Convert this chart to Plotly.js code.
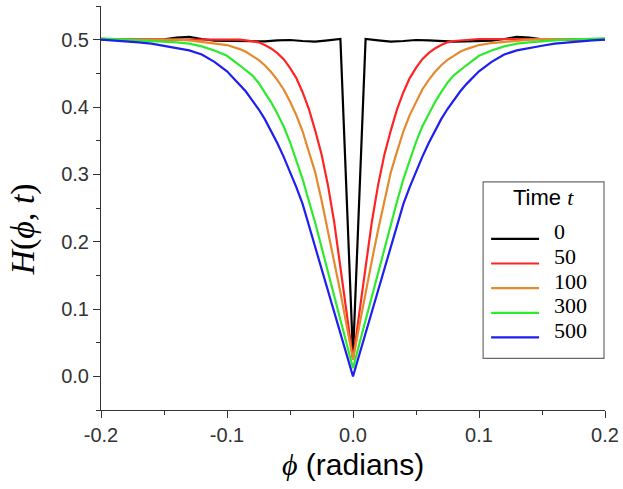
<!DOCTYPE html>
<html>
<head>
<meta charset="utf-8">
<script src="https://cdn.plot.ly/plotly-3.0.1.min.js"></script>
<style>html,body{margin:0;padding:0;background:#fff;}#chart{width:623px;height:489px;}</style>
</head>
<body>
<div id="chart"></div>
<script>
// ---- data ----
var times = ["0", "50", "100", "300", "500"];
var colors = ["#000000", "#ff2424", "#e4892e", "#2eea2e", "#1e1ef0"];

var xTickVals = [-0.2, -0.1, 0.0, 0.1, 0.2];
var xTickText = ["-0.2", "-0.1", "0.0", "0.1", "0.2"];
var yTickVals = [0.0, 0.1, 0.2, 0.3, 0.4, 0.5];
var yTickText = ["0.0", "0.1", "0.2", "0.3", "0.4", "0.5"];

// phi grid for t = 0
var phi0 = [-0.2,-0.18,-0.16,-0.15,-0.14,-0.13,-0.12,-0.11,-0.1,-0.09,-0.08,-0.07,-0.06,-0.05,-0.04,-0.03,-0.02,-0.01,0,
            0.01,0.02,0.03,0.04,0.05,0.06,0.07,0.08,0.09,0.1,0.11,0.12,0.13,0.14,0.15,0.16,0.18,0.2];
var h0 = [0.5,0.5,0.5,0.5005,0.503,0.504,0.501,0.4985,0.498,0.4975,0.497,0.4975,0.499,0.4995,0.498,0.497,0.499,0.501,0.03,
          0.501,0.499,0.497,0.498,0.4995,0.499,0.4975,0.497,0.4975,0.498,0.4985,0.501,0.504,0.503,0.5005,0.5,0.5,0.5];

// phi grid for t > 0
var phi = [-0.2,-0.19,-0.18,-0.17,-0.16,-0.15,-0.14,-0.13,-0.12,-0.11,-0.1,-0.09,-0.085,-0.08,-0.075,-0.07,-0.065,-0.06,-0.055,-0.05,
           -0.045,-0.04,-0.035,-0.03,-0.025,-0.02,-0.015,-0.01,-0.005,0,
           0.005,0.01,0.015,0.02,0.025,0.03,0.035,0.04,0.045,0.05,0.055,0.06,0.065,0.07,0.075,0.08,0.085,0.09,
           0.1,0.11,0.12,0.13,0.14,0.15,0.16,0.17,0.18,0.19,0.2];
var h50 = [0.5,0.5,0.5,0.5,0.5,0.5,0.5,0.5,0.501,0.501,0.501,0.5,0.499,0.498,0.496,0.492,0.487,0.48,0.471,0.458,
           0.443,0.422,0.397,0.365,0.33,0.285,0.23,0.162,0.094,0.025,
           0.094,0.162,0.23,0.285,0.33,0.365,0.397,0.422,0.443,0.458,0.471,0.48,0.487,0.492,0.496,0.498,0.499,0.5,
           0.501,0.501,0.501,0.5,0.5,0.5,0.5,0.5,0.5,0.5,0.5];
var h100 = [0.5,0.5,0.501,0.501,0.501,0.501,0.5,0.499,0.497,0.495,0.492,0.486,0.482,0.476,0.47,0.462,0.452,0.44,0.426,0.408,
            0.388,0.364,0.334,0.303,0.262,0.218,0.172,0.125,0.075,0.025,
            0.075,0.125,0.172,0.218,0.262,0.303,0.334,0.364,0.388,0.408,0.426,0.44,0.452,0.462,0.47,0.476,0.482,0.486,
            0.492,0.495,0.497,0.499,0.5,0.501,0.501,0.501,0.501,0.5,0.5];
var h300 = [0.502,0.501,0.501,0.5,0.499,0.498,0.496,0.494,0.49,0.484,0.476,0.462,0.455,0.447,0.436,0.422,0.407,0.39,0.371,0.348,
            0.322,0.293,0.26,0.228,0.192,0.156,0.12,0.084,0.048,0.012,
            0.048,0.084,0.12,0.156,0.192,0.228,0.26,0.293,0.322,0.348,0.371,0.39,0.407,0.422,0.436,0.447,0.455,0.462,
            0.476,0.484,0.49,0.494,0.496,0.498,0.499,0.5,0.501,0.501,0.502];
var h500 = [0.5,0.499,0.497,0.496,0.494,0.491,0.488,0.484,0.478,0.467,0.453,0.434,0.423,0.41,0.397,0.382,0.365,0.346,0.326,0.304,
            0.281,0.256,0.224,0.192,0.16,0.128,0.096,0.064,0.032,0.0,
            0.032,0.064,0.096,0.128,0.16,0.192,0.224,0.256,0.281,0.304,0.326,0.346,0.365,0.382,0.397,0.41,0.423,0.434,
            0.453,0.467,0.478,0.484,0.488,0.491,0.494,0.496,0.497,0.499,0.5];

var xs = [phi0, phi, phi, phi, phi];
var ys = [h0, h50, h100, h300, h500];

// ---- traces ----
var traces = [];
for (var i = 0; i < times.length; i++) {
  traces.push({
    x: xs[i], y: ys[i], type: "scatter", mode: "lines", name: times[i],
    line: {color: colors[i], width: 2.2}, showlegend: false
  });
}

// ---- layout helpers (pixel -> paper) ----
var L = 100.5, R = 605, T = 6.4, B = 409.6;
function px(x) { return (x - L) / (R - L); }
function py(y) { return (B - y) / (B - T); }

var shapes = [], annotations = [];
// legend box
shapes.push({type: "rect", xref: "paper", yref: "paper", x0: px(483), x1: px(604), y0: py(358), y1: py(182),
             line: {color: "#6a6a6a", width: 1.2}, fillcolor: "rgba(255,255,255,0)"});
annotations.push({xref: "paper", yref: "paper", x: px(543.5), y: py(198), showarrow: false,
  xanchor: "center", yanchor: "middle",
  text: "Time <span style='font-family:Liberation Serif'><i>t</i></span>",
  font: {family: "Liberation Sans", size: 22, color: "#000"}});
for (var k = 0; k < times.length; k++) {
  var ly = 238.8 + k * 24.6;
  shapes.push({type: "line", xref: "paper", yref: "paper", x0: px(491), x1: px(539), y0: py(ly), y1: py(ly),
               line: {color: colors[k], width: 2.2}});
  annotations.push({xref: "paper", yref: "paper", x: px(552), y: py(ly - 7), showarrow: false,
    xanchor: "left", yanchor: "middle", text: times[k],
    font: {family: "Liberation Serif", size: 22, color: "#000"}});
}
// axis titles
annotations.push({xref: "paper", yref: "paper", x: px(22), y: py(230), showarrow: false, textangle: -90,
  xanchor: "center", yanchor: "middle",
  text: "<i>H</i>(<i>\u03d5</i>, <i>t</i>)",
  font: {family: "Liberation Serif", size: 34, color: "#000"}});
annotations.push({xref: "paper", yref: "paper", x: px(353), y: py(464), showarrow: false,
  xanchor: "center", yanchor: "middle",
  text: "<span style='font-family:Liberation Serif'><i>\u03d5</i></span> (radians)",
  font: {family: "Liberation Sans", size: 30, color: "#000"}});

var axisCommon = {
  showgrid: false, zeroline: false, showline: true, linecolor: "#333", linewidth: 1,
  ticks: "outside", ticklen: 7, tickwidth: 1, tickcolor: "#333",
  tickfont: {family: "Liberation Sans", size: 20, color: "#333"},
  tickmode: "array"
};

var layout = {
  width: 623, height: 489,
  margin: {l: L, r: 623 - R, t: T, b: 489 - B},
  paper_bgcolor: "#fff", plot_bgcolor: "#fff",
  showlegend: false,
  xaxis: Object.assign({}, axisCommon, {range: [-0.2, 0.2], tickvals: xTickVals, ticktext: xTickText,
    minor: {tickmode: "linear", tick0: 0, dtick: 0.05, ticklen: 4, ticks: "outside", tickcolor: "#333"}}),
  yaxis: Object.assign({}, axisCommon, {range: [-0.05, 0.55], tickvals: yTickVals, ticktext: yTickText,
    minor: {tickmode: "linear", tick0: 0, dtick: 0.05, ticklen: 4, ticks: "outside", tickcolor: "#333"}}),
  shapes: shapes,
  annotations: annotations
};

Plotly.newPlot("chart", traces, layout, {staticPlot: true, displayModeBar: false});
</script>
</body>
</html>
